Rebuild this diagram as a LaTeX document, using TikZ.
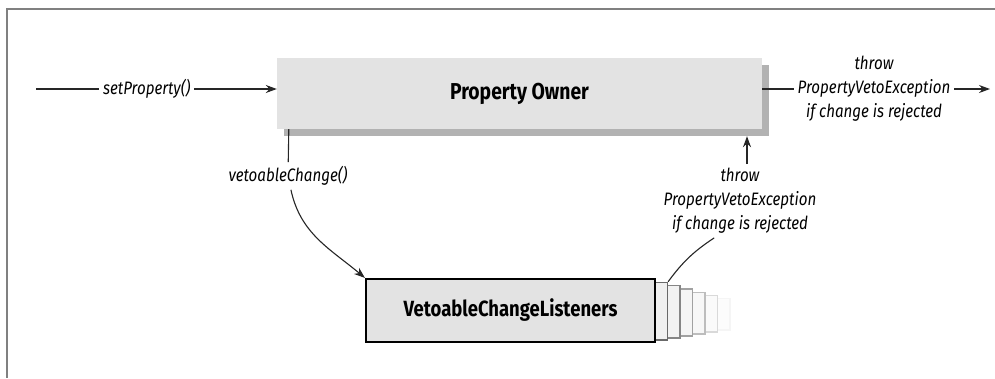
\documentclass[tikz,border=0pt]{standalone}
\usepackage{fontspec}
\setmainfont{Fira Sans}[FakeStretch=0.84]
\usetikzlibrary{arrows.meta, shadows}
\tikzstyle{frame} = [draw=black!50, line width=2.5pt]
\tikzstyle{owner} = [rectangle, minimum width=485pt, minimum height=71pt, text centered, fill=black!11, font=\fontsize{23}{24}\selectfont\bfseries, drop shadow={shadow xshift=7pt, shadow yshift=-7pt, fill=black!55, opacity=0.55}]
\tikzstyle{listener} = [rectangle, minimum width=289pt, minimum height=63pt, text centered, draw=black, line width=2.2pt, fill=black!11, font=\fontsize{22}{24}\selectfont\bfseries]
\tikzstyle{card} = [rectangle, line width=1.2pt, minimum width=289pt]
\tikzstyle{calltext} = [font=\fontsize{18}{24}\selectfont\itshape, align=center, fill=white, inner sep=4pt]
\tikzstyle{arrow} = [line width=1.1pt, draw=black!85, -{Stealth[length=11pt, width=8pt]}]
\tikzstyle{wire} = [line width=1.1pt, draw=black!85]

\begin{document}
\begin{tikzpicture}[x=1pt, y=-1pt]
    \useasboundingbox (0,0) rectangle (995,378);
    %frame
    \draw [frame] (995,9) -- (7,9) -- (7,378);

    %nodes
    \node (owner) [owner] at (519.5,93.5) {Property Owner};
    \foreach \k [evaluate=\k as \cx using 510.5+12.5*\k,
                 evaluate=\k as \cy using 310.5+0.65*\k,
                 evaluate=\k as \h using 63-5.3*\k,
                 evaluate=\k as \d using int(70-11*\k),
                 evaluate=\k as \f using int(7-\k)] in {6,5,...,1}
        \node (card\k) [card, draw=black!\d, fill=black!\f, minimum height=\h pt] at (\cx,\cy) {};
    \node (vcl) [listener] at (510.5,310.5) {VetoableChangeListeners};
    \node (vc) [calltext] at (288,176) {vetoableChange()};
    \node (rej) [calltext] at (740,201) {throw\\PropertyVetoException\\if change is rejected};
    \node (rejtop) [calltext] at (874,89) {throw\\PropertyVetoException\\if change is rejected};
    \coordinate (in) at (36,89);
    \coordinate (out) at (990,89);

    %arrows
    \draw [arrow] (in) -- node [calltext, pos=0.46] (sp) {setProperty()} (in -| owner.west);
    \draw [wire] (owner.east |- out) -- (rejtop);
    \draw [arrow] (rejtop) -- (out);
    \draw [wire] (vc) -- ([xshift=12pt]owner.south west);
    \draw [arrow] (vc) to [out=-78, in=140] (vcl.north west);
    \draw [wire] (card1.north east) to [bend left=10] (rej.235);
    \draw [arrow, shorten >=7pt] ([xshift=7pt]rej.north) -- ([xshift=7pt]rej.north |- owner.south);
\end{tikzpicture}
\end{document}
